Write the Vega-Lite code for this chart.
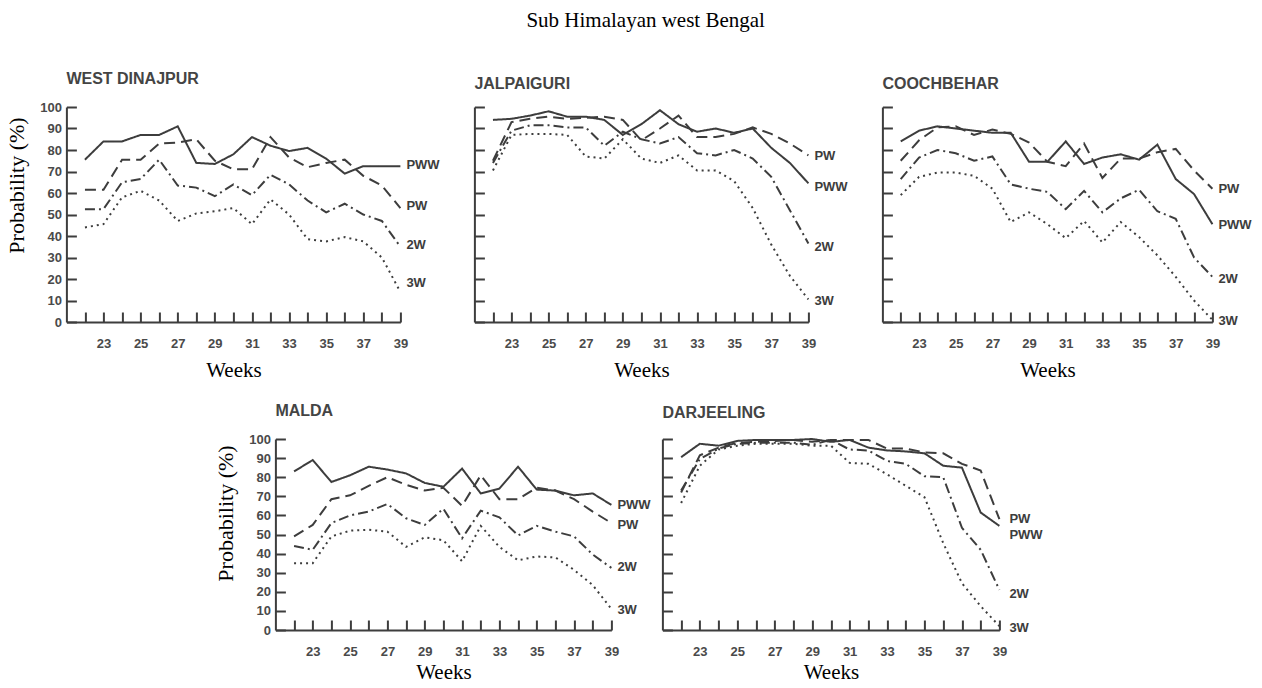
{
"$schema": "https://vega.github.io/schema/vega-lite/v6.json",
"padding": {"left": 5, "top": 10, "right": 5, "bottom": 5},
"title": {"text": "Sub Himalayan west Bengal", "font": "Liberation Serif", "fontSize": 21, "fontWeight": "normal", "color": "#000000", "anchor": "middle", "frame": "bounds", "dx": 17, "offset": 40},
"datasets": {
"probs": [
{"district":"West Dinajpur","series":"PWW","week":22,"p":75.5},{"district":"West Dinajpur","series":"PWW","week":23,"p":84},{"district":"West Dinajpur","series":"PWW","week":24,"p":84},{"district":"West Dinajpur","series":"PWW","week":25,"p":87},{"district":"West Dinajpur","series":"PWW","week":26,"p":87},{"district":"West Dinajpur","series":"PWW","week":27,"p":91},{"district":"West Dinajpur","series":"PWW","week":28,"p":74},{"district":"West Dinajpur","series":"PWW","week":29,"p":73.5},{"district":"West Dinajpur","series":"PWW","week":30,"p":78},{"district":"West Dinajpur","series":"PWW","week":31,"p":86},{"district":"West Dinajpur","series":"PWW","week":32,"p":82},{"district":"West Dinajpur","series":"PWW","week":33,"p":79.5},{"district":"West Dinajpur","series":"PWW","week":34,"p":81},{"district":"West Dinajpur","series":"PWW","week":35,"p":76},{"district":"West Dinajpur","series":"PWW","week":36,"p":69},{"district":"West Dinajpur","series":"PWW","week":37,"p":72.5},{"district":"West Dinajpur","series":"PWW","week":38,"p":72.5},{"district":"West Dinajpur","series":"PWW","week":39,"p":72.5},
{"district":"West Dinajpur","series":"PW","week":22,"p":61.5},{"district":"West Dinajpur","series":"PW","week":23,"p":61.5},{"district":"West Dinajpur","series":"PW","week":24,"p":75.5},{"district":"West Dinajpur","series":"PW","week":25,"p":75.5},{"district":"West Dinajpur","series":"PW","week":26,"p":83},{"district":"West Dinajpur","series":"PW","week":27,"p":83.5},{"district":"West Dinajpur","series":"PW","week":28,"p":85},{"district":"West Dinajpur","series":"PW","week":29,"p":75},{"district":"West Dinajpur","series":"PW","week":30,"p":71},{"district":"West Dinajpur","series":"PW","week":31,"p":71},{"district":"West Dinajpur","series":"PW","week":32,"p":86},{"district":"West Dinajpur","series":"PW","week":33,"p":76.5},{"district":"West Dinajpur","series":"PW","week":34,"p":72},{"district":"West Dinajpur","series":"PW","week":35,"p":74},{"district":"West Dinajpur","series":"PW","week":36,"p":75.5},{"district":"West Dinajpur","series":"PW","week":37,"p":68},{"district":"West Dinajpur","series":"PW","week":38,"p":63.5},{"district":"West Dinajpur","series":"PW","week":39,"p":53},
{"district":"West Dinajpur","series":"2W","week":22,"p":52.5},{"district":"West Dinajpur","series":"2W","week":23,"p":52.5},{"district":"West Dinajpur","series":"2W","week":24,"p":65},{"district":"West Dinajpur","series":"2W","week":25,"p":66.5},{"district":"West Dinajpur","series":"2W","week":26,"p":75.5},{"district":"West Dinajpur","series":"2W","week":27,"p":63.5},{"district":"West Dinajpur","series":"2W","week":28,"p":62.5},{"district":"West Dinajpur","series":"2W","week":29,"p":58.5},{"district":"West Dinajpur","series":"2W","week":30,"p":64},{"district":"West Dinajpur","series":"2W","week":31,"p":59},{"district":"West Dinajpur","series":"2W","week":32,"p":68.5},{"district":"West Dinajpur","series":"2W","week":33,"p":64},{"district":"West Dinajpur","series":"2W","week":34,"p":56.5},{"district":"West Dinajpur","series":"2W","week":35,"p":51},{"district":"West Dinajpur","series":"2W","week":36,"p":55},{"district":"West Dinajpur","series":"2W","week":37,"p":50},{"district":"West Dinajpur","series":"2W","week":38,"p":47},{"district":"West Dinajpur","series":"2W","week":39,"p":35},
{"district":"West Dinajpur","series":"3W","week":22,"p":44},{"district":"West Dinajpur","series":"3W","week":23,"p":45.5},{"district":"West Dinajpur","series":"3W","week":24,"p":58},{"district":"West Dinajpur","series":"3W","week":25,"p":61},{"district":"West Dinajpur","series":"3W","week":26,"p":56.5},{"district":"West Dinajpur","series":"3W","week":27,"p":47},{"district":"West Dinajpur","series":"3W","week":28,"p":50.5},{"district":"West Dinajpur","series":"3W","week":29,"p":51.5},{"district":"West Dinajpur","series":"3W","week":30,"p":53},{"district":"West Dinajpur","series":"3W","week":31,"p":45.5},{"district":"West Dinajpur","series":"3W","week":32,"p":57},{"district":"West Dinajpur","series":"3W","week":33,"p":50},{"district":"West Dinajpur","series":"3W","week":34,"p":38.5},{"district":"West Dinajpur","series":"3W","week":35,"p":37.5},{"district":"West Dinajpur","series":"3W","week":36,"p":39.5},{"district":"West Dinajpur","series":"3W","week":37,"p":37.5},{"district":"West Dinajpur","series":"3W","week":38,"p":30},{"district":"West Dinajpur","series":"3W","week":39,"p":14},
{"district":"Jalpaiguri","series":"PWW","week":22,"p":94},{"district":"Jalpaiguri","series":"PWW","week":23,"p":94.5},{"district":"Jalpaiguri","series":"PWW","week":24,"p":96},{"district":"Jalpaiguri","series":"PWW","week":25,"p":98},{"district":"Jalpaiguri","series":"PWW","week":26,"p":95.5},{"district":"Jalpaiguri","series":"PWW","week":27,"p":95.5},{"district":"Jalpaiguri","series":"PWW","week":28,"p":94},{"district":"Jalpaiguri","series":"PWW","week":29,"p":87},{"district":"Jalpaiguri","series":"PWW","week":30,"p":92},{"district":"Jalpaiguri","series":"PWW","week":31,"p":98.5},{"district":"Jalpaiguri","series":"PWW","week":32,"p":92},{"district":"Jalpaiguri","series":"PWW","week":33,"p":88.5},{"district":"Jalpaiguri","series":"PWW","week":34,"p":90},{"district":"Jalpaiguri","series":"PWW","week":35,"p":88},{"district":"Jalpaiguri","series":"PWW","week":36,"p":90},{"district":"Jalpaiguri","series":"PWW","week":37,"p":81},{"district":"Jalpaiguri","series":"PWW","week":38,"p":74},{"district":"Jalpaiguri","series":"PWW","week":39,"p":64.5},
{"district":"Jalpaiguri","series":"PW","week":22,"p":75},{"district":"Jalpaiguri","series":"PW","week":23,"p":93},{"district":"Jalpaiguri","series":"PW","week":24,"p":94.5},{"district":"Jalpaiguri","series":"PW","week":25,"p":95.5},{"district":"Jalpaiguri","series":"PW","week":26,"p":94.5},{"district":"Jalpaiguri","series":"PW","week":27,"p":95},{"district":"Jalpaiguri","series":"PW","week":28,"p":95.5},{"district":"Jalpaiguri","series":"PW","week":29,"p":94},{"district":"Jalpaiguri","series":"PW","week":30,"p":84.5},{"district":"Jalpaiguri","series":"PW","week":31,"p":90},{"district":"Jalpaiguri","series":"PW","week":32,"p":96},{"district":"Jalpaiguri","series":"PW","week":33,"p":86},{"district":"Jalpaiguri","series":"PW","week":34,"p":86},{"district":"Jalpaiguri","series":"PW","week":35,"p":87.5},{"district":"Jalpaiguri","series":"PW","week":36,"p":90.5},{"district":"Jalpaiguri","series":"PW","week":37,"p":87.5},{"district":"Jalpaiguri","series":"PW","week":38,"p":83},{"district":"Jalpaiguri","series":"PW","week":39,"p":77.5},
{"district":"Jalpaiguri","series":"2W","week":22,"p":74},{"district":"Jalpaiguri","series":"2W","week":23,"p":89},{"district":"Jalpaiguri","series":"2W","week":24,"p":91.5},{"district":"Jalpaiguri","series":"2W","week":25,"p":91.5},{"district":"Jalpaiguri","series":"2W","week":26,"p":90.5},{"district":"Jalpaiguri","series":"2W","week":27,"p":90.5},{"district":"Jalpaiguri","series":"2W","week":28,"p":82},{"district":"Jalpaiguri","series":"2W","week":29,"p":88.5},{"district":"Jalpaiguri","series":"2W","week":30,"p":85},{"district":"Jalpaiguri","series":"2W","week":31,"p":83},{"district":"Jalpaiguri","series":"2W","week":32,"p":86},{"district":"Jalpaiguri","series":"2W","week":33,"p":78.5},{"district":"Jalpaiguri","series":"2W","week":34,"p":77.5},{"district":"Jalpaiguri","series":"2W","week":35,"p":80},{"district":"Jalpaiguri","series":"2W","week":36,"p":76},{"district":"Jalpaiguri","series":"2W","week":37,"p":67.5},{"district":"Jalpaiguri","series":"2W","week":38,"p":52},{"district":"Jalpaiguri","series":"2W","week":39,"p":36.5},
{"district":"Jalpaiguri","series":"3W","week":22,"p":70.5},{"district":"Jalpaiguri","series":"3W","week":23,"p":87},{"district":"Jalpaiguri","series":"3W","week":24,"p":87.5},{"district":"Jalpaiguri","series":"3W","week":25,"p":87.5},{"district":"Jalpaiguri","series":"3W","week":26,"p":87},{"district":"Jalpaiguri","series":"3W","week":27,"p":77},{"district":"Jalpaiguri","series":"3W","week":28,"p":76},{"district":"Jalpaiguri","series":"3W","week":29,"p":85},{"district":"Jalpaiguri","series":"3W","week":30,"p":76},{"district":"Jalpaiguri","series":"3W","week":31,"p":74},{"district":"Jalpaiguri","series":"3W","week":32,"p":77.5},{"district":"Jalpaiguri","series":"3W","week":33,"p":70.5},{"district":"Jalpaiguri","series":"3W","week":34,"p":70.5},{"district":"Jalpaiguri","series":"3W","week":35,"p":65.5},{"district":"Jalpaiguri","series":"3W","week":36,"p":53},{"district":"Jalpaiguri","series":"3W","week":37,"p":36},{"district":"Jalpaiguri","series":"3W","week":38,"p":21.5},{"district":"Jalpaiguri","series":"3W","week":39,"p":10.5},
{"district":"Coochbehar","series":"PWW","week":22,"p":84},{"district":"Coochbehar","series":"PWW","week":23,"p":89},{"district":"Coochbehar","series":"PWW","week":24,"p":91},{"district":"Coochbehar","series":"PWW","week":25,"p":90},{"district":"Coochbehar","series":"PWW","week":26,"p":89},{"district":"Coochbehar","series":"PWW","week":27,"p":88},{"district":"Coochbehar","series":"PWW","week":28,"p":88},{"district":"Coochbehar","series":"PWW","week":29,"p":74.5},{"district":"Coochbehar","series":"PWW","week":30,"p":74.5},{"district":"Coochbehar","series":"PWW","week":31,"p":84},{"district":"Coochbehar","series":"PWW","week":32,"p":73.5},{"district":"Coochbehar","series":"PWW","week":33,"p":76.5},{"district":"Coochbehar","series":"PWW","week":34,"p":78},{"district":"Coochbehar","series":"PWW","week":35,"p":75.5},{"district":"Coochbehar","series":"PWW","week":36,"p":82.5},{"district":"Coochbehar","series":"PWW","week":37,"p":66.5},{"district":"Coochbehar","series":"PWW","week":38,"p":59.5},{"district":"Coochbehar","series":"PWW","week":39,"p":45.5},
{"district":"Coochbehar","series":"PW","week":22,"p":75},{"district":"Coochbehar","series":"PW","week":23,"p":84.5},{"district":"Coochbehar","series":"PW","week":24,"p":90.5},{"district":"Coochbehar","series":"PW","week":25,"p":91},{"district":"Coochbehar","series":"PW","week":26,"p":87},{"district":"Coochbehar","series":"PW","week":27,"p":89.5},{"district":"Coochbehar","series":"PW","week":28,"p":87.5},{"district":"Coochbehar","series":"PW","week":29,"p":83.5},{"district":"Coochbehar","series":"PW","week":30,"p":74.5},{"district":"Coochbehar","series":"PW","week":31,"p":72.5},{"district":"Coochbehar","series":"PW","week":32,"p":83},{"district":"Coochbehar","series":"PW","week":33,"p":67},{"district":"Coochbehar","series":"PW","week":34,"p":76},{"district":"Coochbehar","series":"PW","week":35,"p":76},{"district":"Coochbehar","series":"PW","week":36,"p":79},{"district":"Coochbehar","series":"PW","week":37,"p":80.5},{"district":"Coochbehar","series":"PW","week":38,"p":70.5},{"district":"Coochbehar","series":"PW","week":39,"p":62},
{"district":"Coochbehar","series":"2W","week":22,"p":66.5},{"district":"Coochbehar","series":"2W","week":23,"p":76.5},{"district":"Coochbehar","series":"2W","week":24,"p":80},{"district":"Coochbehar","series":"2W","week":25,"p":78.5},{"district":"Coochbehar","series":"2W","week":26,"p":75},{"district":"Coochbehar","series":"2W","week":27,"p":77},{"district":"Coochbehar","series":"2W","week":28,"p":64},{"district":"Coochbehar","series":"2W","week":29,"p":62},{"district":"Coochbehar","series":"2W","week":30,"p":60.5},{"district":"Coochbehar","series":"2W","week":31,"p":52.5},{"district":"Coochbehar","series":"2W","week":32,"p":61},{"district":"Coochbehar","series":"2W","week":33,"p":51},{"district":"Coochbehar","series":"2W","week":34,"p":57.5},{"district":"Coochbehar","series":"2W","week":35,"p":61.5},{"district":"Coochbehar","series":"2W","week":36,"p":51.5},{"district":"Coochbehar","series":"2W","week":37,"p":48},{"district":"Coochbehar","series":"2W","week":38,"p":30},{"district":"Coochbehar","series":"2W","week":39,"p":21},
{"district":"Coochbehar","series":"3W","week":22,"p":59},{"district":"Coochbehar","series":"3W","week":23,"p":67.5},{"district":"Coochbehar","series":"3W","week":24,"p":69.5},{"district":"Coochbehar","series":"3W","week":25,"p":69.5},{"district":"Coochbehar","series":"3W","week":26,"p":68},{"district":"Coochbehar","series":"3W","week":27,"p":62},{"district":"Coochbehar","series":"3W","week":28,"p":46.5},{"district":"Coochbehar","series":"3W","week":29,"p":51},{"district":"Coochbehar","series":"3W","week":30,"p":45.5},{"district":"Coochbehar","series":"3W","week":31,"p":39},{"district":"Coochbehar","series":"3W","week":32,"p":47},{"district":"Coochbehar","series":"3W","week":33,"p":37},{"district":"Coochbehar","series":"3W","week":34,"p":46.5},{"district":"Coochbehar","series":"3W","week":35,"p":39.5},{"district":"Coochbehar","series":"3W","week":36,"p":31},{"district":"Coochbehar","series":"3W","week":37,"p":21},{"district":"Coochbehar","series":"3W","week":38,"p":10},{"district":"Coochbehar","series":"3W","week":39,"p":1},
{"district":"Malda","series":"PWW","week":22,"p":83},{"district":"Malda","series":"PWW","week":23,"p":89},{"district":"Malda","series":"PWW","week":24,"p":77.5},{"district":"Malda","series":"PWW","week":25,"p":81},{"district":"Malda","series":"PWW","week":26,"p":85.5},{"district":"Malda","series":"PWW","week":27,"p":84},{"district":"Malda","series":"PWW","week":28,"p":82},{"district":"Malda","series":"PWW","week":29,"p":77},{"district":"Malda","series":"PWW","week":30,"p":75},{"district":"Malda","series":"PWW","week":31,"p":84.5},{"district":"Malda","series":"PWW","week":32,"p":71.5},{"district":"Malda","series":"PWW","week":33,"p":74},{"district":"Malda","series":"PWW","week":34,"p":85.5},{"district":"Malda","series":"PWW","week":35,"p":73.5},{"district":"Malda","series":"PWW","week":36,"p":73},{"district":"Malda","series":"PWW","week":37,"p":70.5},{"district":"Malda","series":"PWW","week":38,"p":71.5},{"district":"Malda","series":"PWW","week":39,"p":65.5},
{"district":"Malda","series":"PW","week":22,"p":49},{"district":"Malda","series":"PW","week":23,"p":55},{"district":"Malda","series":"PW","week":24,"p":68.5},{"district":"Malda","series":"PW","week":25,"p":70.5},{"district":"Malda","series":"PW","week":26,"p":75.5},{"district":"Malda","series":"PW","week":27,"p":80},{"district":"Malda","series":"PW","week":28,"p":76},{"district":"Malda","series":"PW","week":29,"p":73},{"district":"Malda","series":"PW","week":30,"p":74.5},{"district":"Malda","series":"PW","week":31,"p":65},{"district":"Malda","series":"PW","week":32,"p":81},{"district":"Malda","series":"PW","week":33,"p":68.5},{"district":"Malda","series":"PW","week":34,"p":68.5},{"district":"Malda","series":"PW","week":35,"p":74.5},{"district":"Malda","series":"PW","week":36,"p":73},{"district":"Malda","series":"PW","week":37,"p":68.5},{"district":"Malda","series":"PW","week":38,"p":62},{"district":"Malda","series":"PW","week":39,"p":56},
{"district":"Malda","series":"2W","week":22,"p":44},{"district":"Malda","series":"2W","week":23,"p":42},{"district":"Malda","series":"2W","week":24,"p":56},{"district":"Malda","series":"2W","week":25,"p":60},{"district":"Malda","series":"2W","week":26,"p":62},{"district":"Malda","series":"2W","week":27,"p":66},{"district":"Malda","series":"2W","week":28,"p":58.5},{"district":"Malda","series":"2W","week":29,"p":55},{"district":"Malda","series":"2W","week":30,"p":63.5},{"district":"Malda","series":"2W","week":31,"p":48},{"district":"Malda","series":"2W","week":32,"p":62.5},{"district":"Malda","series":"2W","week":33,"p":59},{"district":"Malda","series":"2W","week":34,"p":49.5},{"district":"Malda","series":"2W","week":35,"p":54.5},{"district":"Malda","series":"2W","week":36,"p":51.5},{"district":"Malda","series":"2W","week":37,"p":49},{"district":"Malda","series":"2W","week":38,"p":39.5},{"district":"Malda","series":"2W","week":39,"p":32.5},
{"district":"Malda","series":"3W","week":22,"p":35},{"district":"Malda","series":"3W","week":23,"p":35},{"district":"Malda","series":"3W","week":24,"p":49},{"district":"Malda","series":"3W","week":25,"p":52},{"district":"Malda","series":"3W","week":26,"p":52.5},{"district":"Malda","series":"3W","week":27,"p":51.5},{"district":"Malda","series":"3W","week":28,"p":43.5},{"district":"Malda","series":"3W","week":29,"p":48.5},{"district":"Malda","series":"3W","week":30,"p":47},{"district":"Malda","series":"3W","week":31,"p":36},{"district":"Malda","series":"3W","week":32,"p":54.5},{"district":"Malda","series":"3W","week":33,"p":43.5},{"district":"Malda","series":"3W","week":34,"p":36.5},{"district":"Malda","series":"3W","week":35,"p":38.5},{"district":"Malda","series":"3W","week":36,"p":38},{"district":"Malda","series":"3W","week":37,"p":31.5},{"district":"Malda","series":"3W","week":38,"p":23.5},{"district":"Malda","series":"3W","week":39,"p":11},
{"district":"Darjeeling","series":"PWW","week":22,"p":90.5},{"district":"Darjeeling","series":"PWW","week":23,"p":97.5},{"district":"Darjeeling","series":"PWW","week":24,"p":96.5},{"district":"Darjeeling","series":"PWW","week":25,"p":99},{"district":"Darjeeling","series":"PWW","week":26,"p":99.5},{"district":"Darjeeling","series":"PWW","week":27,"p":99.5},{"district":"Darjeeling","series":"PWW","week":28,"p":99.5},{"district":"Darjeeling","series":"PWW","week":29,"p":100},{"district":"Darjeeling","series":"PWW","week":30,"p":98.5},{"district":"Darjeeling","series":"PWW","week":31,"p":99.5},{"district":"Darjeeling","series":"PWW","week":32,"p":95.5},{"district":"Darjeeling","series":"PWW","week":33,"p":94},{"district":"Darjeeling","series":"PWW","week":34,"p":93.5},{"district":"Darjeeling","series":"PWW","week":35,"p":92.5},{"district":"Darjeeling","series":"PWW","week":36,"p":86},{"district":"Darjeeling","series":"PWW","week":37,"p":85},{"district":"Darjeeling","series":"PWW","week":38,"p":61.5},{"district":"Darjeeling","series":"PWW","week":39,"p":54.5},
{"district":"Darjeeling","series":"PW","week":22,"p":72},{"district":"Darjeeling","series":"PW","week":23,"p":91.5},{"district":"Darjeeling","series":"PW","week":24,"p":95.5},{"district":"Darjeeling","series":"PW","week":25,"p":98},{"district":"Darjeeling","series":"PW","week":26,"p":98.5},{"district":"Darjeeling","series":"PW","week":27,"p":99},{"district":"Darjeeling","series":"PW","week":28,"p":99.5},{"district":"Darjeeling","series":"PW","week":29,"p":98.5},{"district":"Darjeeling","series":"PW","week":30,"p":99.5},{"district":"Darjeeling","series":"PW","week":31,"p":99.5},{"district":"Darjeeling","series":"PW","week":32,"p":99.5},{"district":"Darjeeling","series":"PW","week":33,"p":95},{"district":"Darjeeling","series":"PW","week":34,"p":95},{"district":"Darjeeling","series":"PW","week":35,"p":93},{"district":"Darjeeling","series":"PW","week":36,"p":92.5},{"district":"Darjeeling","series":"PW","week":37,"p":87},{"district":"Darjeeling","series":"PW","week":38,"p":83.5},{"district":"Darjeeling","series":"PW","week":39,"p":58},
{"district":"Darjeeling","series":"2W","week":22,"p":73},{"district":"Darjeeling","series":"2W","week":23,"p":89.5},{"district":"Darjeeling","series":"2W","week":24,"p":95},{"district":"Darjeeling","series":"2W","week":25,"p":97.5},{"district":"Darjeeling","series":"2W","week":26,"p":98},{"district":"Darjeeling","series":"2W","week":27,"p":98},{"district":"Darjeeling","series":"2W","week":28,"p":98},{"district":"Darjeeling","series":"2W","week":29,"p":97},{"district":"Darjeeling","series":"2W","week":30,"p":99.5},{"district":"Darjeeling","series":"2W","week":31,"p":94.5},{"district":"Darjeeling","series":"2W","week":32,"p":94},{"district":"Darjeeling","series":"2W","week":33,"p":88.5},{"district":"Darjeeling","series":"2W","week":34,"p":87},{"district":"Darjeeling","series":"2W","week":35,"p":80.5},{"district":"Darjeeling","series":"2W","week":36,"p":80},{"district":"Darjeeling","series":"2W","week":37,"p":53.5},{"district":"Darjeeling","series":"2W","week":38,"p":42},{"district":"Darjeeling","series":"2W","week":39,"p":21},
{"district":"Darjeeling","series":"3W","week":22,"p":66.5},{"district":"Darjeeling","series":"3W","week":23,"p":86},{"district":"Darjeeling","series":"3W","week":24,"p":94.5},{"district":"Darjeeling","series":"3W","week":25,"p":96.5},{"district":"Darjeeling","series":"3W","week":26,"p":97.5},{"district":"Darjeeling","series":"3W","week":27,"p":97.5},{"district":"Darjeeling","series":"3W","week":28,"p":97.5},{"district":"Darjeeling","series":"3W","week":29,"p":96.5},{"district":"Darjeeling","series":"3W","week":30,"p":96.5},{"district":"Darjeeling","series":"3W","week":31,"p":87.5},{"district":"Darjeeling","series":"3W","week":32,"p":87},{"district":"Darjeeling","series":"3W","week":33,"p":81.5},{"district":"Darjeeling","series":"3W","week":34,"p":75.5},{"district":"Darjeeling","series":"3W","week":35,"p":69.5},{"district":"Darjeeling","series":"3W","week":36,"p":45.5},{"district":"Darjeeling","series":"3W","week":37,"p":24.5},{"district":"Darjeeling","series":"3W","week":38,"p":12.5},{"district":"Darjeeling","series":"3W","week":39,"p":2}
],
"labels": [
{"district":"West Dinajpur","series":"PWW","week":39,"at":73},{"district":"West Dinajpur","series":"PW","week":39,"at":54},{"district":"West Dinajpur","series":"2W","week":39,"at":36},{"district":"West Dinajpur","series":"3W","week":39,"at":18},
{"district":"Jalpaiguri","series":"PW","week":39,"at":77},{"district":"Jalpaiguri","series":"PWW","week":39,"at":63},{"district":"Jalpaiguri","series":"2W","week":39,"at":35},{"district":"Jalpaiguri","series":"3W","week":39,"at":10},
{"district":"Coochbehar","series":"PW","week":39,"at":62},{"district":"Coochbehar","series":"PWW","week":39,"at":45},{"district":"Coochbehar","series":"2W","week":39,"at":20},{"district":"Coochbehar","series":"3W","week":39,"at":0.5},
{"district":"Malda","series":"PWW","week":39,"at":65.5},{"district":"Malda","series":"PW","week":39,"at":55},{"district":"Malda","series":"2W","week":39,"at":33},{"district":"Malda","series":"3W","week":39,"at":10.5},
{"district":"Darjeeling","series":"PW","week":39,"at":58},{"district":"Darjeeling","series":"PWW","week":39,"at":50},{"district":"Darjeeling","series":"2W","week":39,"at":19},{"district":"Darjeeling","series":"3W","week":39,"at":1}
]
},
"vconcat": [
{"hconcat": [
{"title": "WEST DINAJPUR", "width": 334, "height": 215, "layer": [
{"data": {"name": "probs"}, "transform": [{"filter": "datum.district == 'West Dinajpur'"}], "mark": {"type": "line", "strokeWidth": 2, "color": "#3d3d3d"},
 "encoding": {
  "x": {"field": "week", "type": "quantitative", "scale": {"domain": [21, 39], "nice": false}, "axis": {"values": [22,23,24,25,26,27,28,29,30,31,32,33,34,35,36,37,38,39], "tickCount": 40, "format": "d", "labelExpr": "datum.value % 2 == 1 ? datum.label : ''", "labelOverlap": false, "title": "Weeks"}},
  "y": {"field": "p", "type": "quantitative", "scale": {"domain": [0, 100], "nice": false}, "axis": {"values": [0,10,20,30,40,50,60,70,80,90,100], "tickCount": 40, "format": "d", "labelOverlap": false, "title": "Probability (%)", "titleY": 78}},
  "strokeDash": {"field": "series", "type": "nominal", "scale": {"domain": ["PWW","PW","2W","3W"], "range": [[1,0],[11,6],[10,4,2,4],[2,4]]}, "legend": null}}},
{"data": {"name": "labels"}, "transform": [{"filter": "datum.district == 'West Dinajpur'"}], "mark": {"type": "text", "align": "left", "baseline": "middle", "dx": 6, "font": "Liberation Sans", "fontWeight": "bold", "fontSize": 13, "color": "#3d3d3d"},
 "encoding": {"x": {"field": "week", "type": "quantitative"}, "y": {"field": "at", "type": "quantitative"}, "text": {"field": "series"}}}
]},
{"title": "JALPAIGURI", "width": 334, "height": 215, "layer": [
{"data": {"name": "probs"}, "transform": [{"filter": "datum.district == 'Jalpaiguri'"}], "mark": {"type": "line", "strokeWidth": 2, "color": "#3d3d3d"},
 "encoding": {
  "x": {"field": "week", "type": "quantitative", "scale": {"domain": [21, 39], "nice": false}, "axis": {"values": [22,23,24,25,26,27,28,29,30,31,32,33,34,35,36,37,38,39], "tickCount": 40, "format": "d", "labelExpr": "datum.value % 2 == 1 ? datum.label : ''", "labelOverlap": false, "title": "Weeks"}},
  "y": {"field": "p", "type": "quantitative", "scale": {"domain": [0, 100], "nice": false}, "axis": {"values": [0,10,20,30,40,50,60,70,80,90,100], "tickCount": 40, "labels": false, "title": null}},
  "strokeDash": {"field": "series", "type": "nominal", "scale": {"domain": ["PWW","PW","2W","3W"], "range": [[1,0],[11,6],[10,4,2,4],[2,4]]}, "legend": null}}},
{"data": {"name": "labels"}, "transform": [{"filter": "datum.district == 'Jalpaiguri'"}], "mark": {"type": "text", "align": "left", "baseline": "middle", "dx": 6, "font": "Liberation Sans", "fontWeight": "bold", "fontSize": 13, "color": "#3d3d3d"},
 "encoding": {"x": {"field": "week", "type": "quantitative"}, "y": {"field": "at", "type": "quantitative"}, "text": {"field": "series"}}}
]},
{"title": "COOCHBEHAR", "width": 330, "height": 215, "layer": [
{"data": {"name": "probs"}, "transform": [{"filter": "datum.district == 'Coochbehar'"}], "mark": {"type": "line", "strokeWidth": 2, "color": "#3d3d3d"},
 "encoding": {
  "x": {"field": "week", "type": "quantitative", "scale": {"domain": [21, 39], "nice": false}, "axis": {"values": [22,23,24,25,26,27,28,29,30,31,32,33,34,35,36,37,38,39], "tickCount": 40, "format": "d", "labelExpr": "datum.value % 2 == 1 ? datum.label : ''", "labelOverlap": false, "title": "Weeks"}},
  "y": {"field": "p", "type": "quantitative", "scale": {"domain": [0, 100], "nice": false}, "axis": {"values": [0,10,20,30,40,50,60,70,80,90,100], "tickCount": 40, "labels": false, "title": null}},
  "strokeDash": {"field": "series", "type": "nominal", "scale": {"domain": ["PWW","PW","2W","3W"], "range": [[1,0],[11,6],[10,4,2,4],[2,4]]}, "legend": null}}},
{"data": {"name": "labels"}, "transform": [{"filter": "datum.district == 'Coochbehar'"}], "mark": {"type": "text", "align": "left", "baseline": "middle", "dx": 6, "font": "Liberation Sans", "fontWeight": "bold", "fontSize": 13, "color": "#3d3d3d"},
 "encoding": {"x": {"field": "week", "type": "quantitative"}, "y": {"field": "at", "type": "quantitative"}, "text": {"field": "series"}}}
]}
], "spacing": 33},
{"hconcat": [
{"title": "MALDA", "width": 336, "height": 191, "layer": [
{"data": {"name": "probs"}, "transform": [{"filter": "datum.district == 'Malda'"}], "mark": {"type": "line", "strokeWidth": 2, "color": "#3d3d3d"},
 "encoding": {
  "x": {"field": "week", "type": "quantitative", "scale": {"domain": [21, 39], "nice": false}, "axis": {"values": [22,23,24,25,26,27,28,29,30,31,32,33,34,35,36,37,38,39], "tickCount": 40, "format": "d", "labelExpr": "datum.value % 2 == 1 ? datum.label : ''", "labelOverlap": false, "title": "Weeks", "titlePadding": 3}},
  "y": {"field": "p", "type": "quantitative", "scale": {"domain": [0, 100], "nice": false}, "axis": {"values": [0,10,20,30,40,50,60,70,80,90,100], "tickCount": 40, "format": "d", "labelOverlap": false, "title": "Probability (%)", "titleY": 74}},
  "strokeDash": {"field": "series", "type": "nominal", "scale": {"domain": ["PWW","PW","2W","3W"], "range": [[1,0],[11,6],[10,4,2,4],[2,4]]}, "legend": null}}},
{"data": {"name": "labels"}, "transform": [{"filter": "datum.district == 'Malda'"}], "mark": {"type": "text", "align": "left", "baseline": "middle", "dx": 6, "font": "Liberation Sans", "fontWeight": "bold", "fontSize": 13, "color": "#3d3d3d"},
 "encoding": {"x": {"field": "week", "type": "quantitative"}, "y": {"field": "at", "type": "quantitative"}, "text": {"field": "series"}}}
]},
{"title": "DARJEELING", "width": 337, "height": 191, "layer": [
{"data": {"name": "probs"}, "transform": [{"filter": "datum.district == 'Darjeeling'"}], "mark": {"type": "line", "strokeWidth": 2, "color": "#3d3d3d"},
 "encoding": {
  "x": {"field": "week", "type": "quantitative", "scale": {"domain": [21, 39], "nice": false}, "axis": {"values": [22,23,24,25,26,27,28,29,30,31,32,33,34,35,36,37,38,39], "tickCount": 40, "format": "d", "labelExpr": "datum.value % 2 == 1 ? datum.label : ''", "labelOverlap": false, "title": "Weeks", "titlePadding": 3}},
  "y": {"field": "p", "type": "quantitative", "scale": {"domain": [0, 100], "nice": false}, "axis": {"values": [0,10,20,30,40,50,60,70,80,90,100], "tickCount": 40, "labels": false, "title": null}},
  "strokeDash": {"field": "series", "type": "nominal", "scale": {"domain": ["PWW","PW","2W","3W"], "range": [[1,0],[11,6],[10,4,2,4],[2,4]]}, "legend": null}}},
{"data": {"name": "labels"}, "transform": [{"filter": "datum.district == 'Darjeeling'"}], "mark": {"type": "text", "align": "left", "baseline": "middle", "dx": 10, "font": "Liberation Sans", "fontWeight": "bold", "fontSize": 13, "color": "#3d3d3d"},
 "encoding": {"x": {"field": "week", "type": "quantitative"}, "y": {"field": "at", "type": "quantitative"}, "text": {"field": "series"}}}
]}
], "spacing": 10}
],
"spacing": 23,
"center": true,
"config": {
 "view": {"stroke": null},
 "axis": {"grid": false, "domainColor": "#3d3d3d", "domainWidth": 2, "tickColor": "#3d3d3d", "tickWidth": 2, "tickSize": -10, "labelFont": "Liberation Sans", "labelFontWeight": "bold", "labelFontSize": 13, "labelColor": "#4a4a4a", "labelFlush": false, "labelOverlap": false, "titleFont": "Liberation Serif", "titleFontWeight": "normal", "titleFontSize": 21, "titleColor": "#000000"},
 "axisX": {"labelPadding": 25, "titlePadding": 9},
 "axisY": {"labelPadding": 15, "titlePadding": 11, "titleFontSize": 22},
 "title": {"anchor": "start", "frame": "group", "font": "Liberation Sans", "fontSize": 16, "fontWeight": "bold", "color": "#444444", "offset": 14}
}
}
